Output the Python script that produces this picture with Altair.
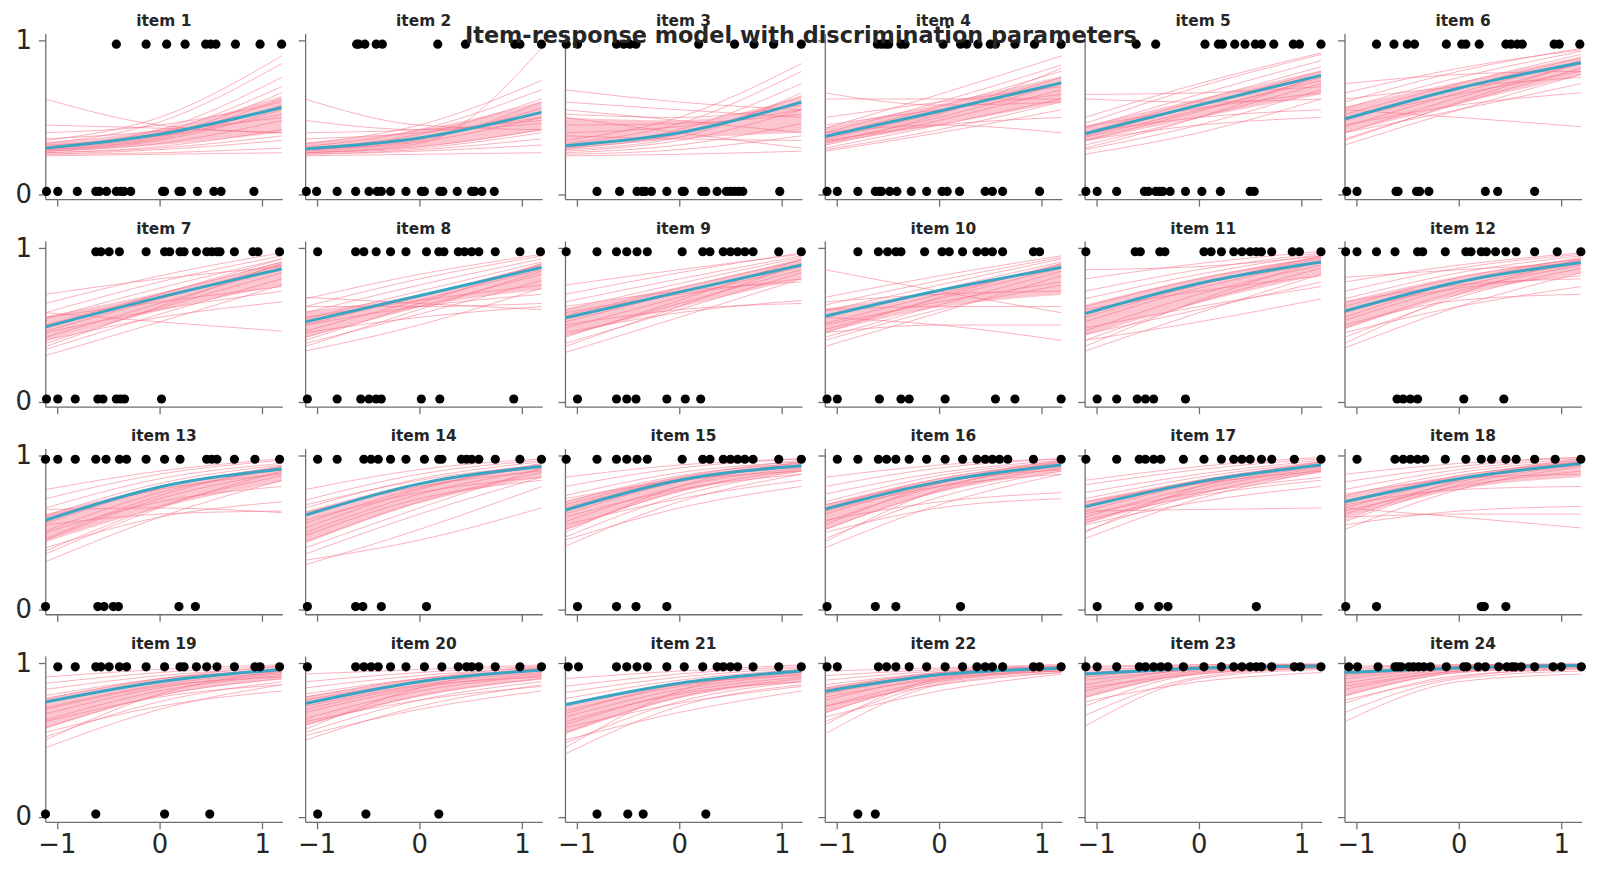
import altair as alt
import pandas as pd

x_grid = [-1.11, 0.0, 1.19]

# posterior mean curve per item (blue)
mean_curve = [
    (0.30, 0.39, 0.565), (0.295, 0.366, 0.533), (0.316, 0.40, 0.60),
    (0.376, 0.54, 0.725), (0.394, 0.58, 0.774), (0.49, 0.69, 0.856),
    (0.488, 0.68, 0.865), (0.52, 0.69, 0.875), (0.546, 0.714, 0.89),
    (0.557, 0.725, 0.875), (0.574, 0.77, 0.91), (0.59, 0.78, 0.907),
    (0.58, 0.796, 0.914), (0.613, 0.817, 0.93), (0.645, 0.84, 0.935),
    (0.652, 0.83, 0.94), (0.667, 0.83, 0.94), (0.70, 0.85, 0.95),
    (0.748, 0.88, 0.96), (0.738, 0.88, 0.957), (0.73, 0.87, 0.95),
    (0.817, 0.925, 0.968), (0.93, 0.968, 0.983), (0.94, 0.97, 0.985),
]

# posterior draws per item (pink)
sample_curves = [
    [(0.26, 0.27, 0.30), (0.25, 0.26, 0.27), (0.27, 0.31, 0.42), (0.28, 0.35, 0.55),
     (0.29, 0.37, 0.62), (0.30, 0.40, 0.70), (0.31, 0.42, 0.76), (0.33, 0.47, 0.85),
     (0.35, 0.50, 0.90), (0.28, 0.33, 0.48), (0.32, 0.38, 0.52), (0.36, 0.41, 0.50),
     (0.40, 0.45, 0.60), (0.45, 0.43, 0.40), (0.62, 0.45, 0.40), (0.27, 0.30, 0.38),
     (0.29, 0.36, 0.58), (0.30, 0.38, 0.66), (0.26, 0.29, 0.35)],
    [(0.25, 0.26, 0.27), (0.26, 0.29, 0.36), (0.27, 0.31, 0.42), (0.28, 0.34, 0.50),
     (0.29, 0.36, 0.56), (0.30, 0.39, 0.62), (0.31, 0.42, 0.68), (0.33, 0.45, 0.74),
     (0.27, 0.33, 0.95), (0.36, 0.40, 0.50), (0.40, 0.42, 0.48), (0.62, 0.45, 0.42),
     (0.48, 0.42, 0.46), (0.27, 0.30, 0.40), (0.29, 0.35, 0.60), (0.26, 0.28, 0.32)],
    [(0.25, 0.26, 0.28), (0.26, 0.29, 0.38), (0.27, 0.32, 0.46), (0.28, 0.35, 0.55),
     (0.30, 0.39, 0.64), (0.31, 0.42, 0.72), (0.33, 0.46, 0.80), (0.35, 0.50, 0.85),
     (0.40, 0.44, 0.55), (0.45, 0.46, 0.52), (0.52, 0.50, 0.58), (0.60, 0.55, 0.50),
     (0.68, 0.60, 0.55), (0.55, 0.48, 0.40), (0.38, 0.36, 0.35), (0.29, 0.37, 0.66),
     (0.50, 0.40, 0.30)],
    [(0.28, 0.40, 0.55), (0.30, 0.45, 0.62), (0.32, 0.48, 0.68), (0.34, 0.50, 0.72),
     (0.36, 0.53, 0.76), (0.38, 0.57, 0.80), (0.40, 0.60, 0.84), (0.43, 0.65, 0.90),
     (0.62, 0.62, 0.62), (0.66, 0.58, 0.60), (0.35, 0.45, 0.50), (0.40, 0.45, 0.40),
     (0.45, 0.55, 0.65), (0.33, 0.52, 0.82), (0.50, 0.60, 0.70), (0.29, 0.42, 0.60)],
    [(0.26, 0.40, 0.62), (0.29, 0.45, 0.68), (0.32, 0.50, 0.72), (0.35, 0.54, 0.76),
     (0.38, 0.58, 0.80), (0.40, 0.61, 0.83), (0.43, 0.65, 0.87), (0.46, 0.70, 0.91),
     (0.50, 0.72, 0.92), (0.65, 0.66, 0.70), (0.62, 0.60, 0.62), (0.35, 0.45, 0.50),
     (0.40, 0.50, 0.55), (0.30, 0.50, 0.78), (0.44, 0.56, 0.66), (0.37, 0.55, 0.74)],
    [(0.32, 0.55, 0.78), (0.36, 0.59, 0.82), (0.40, 0.63, 0.85), (0.44, 0.66, 0.87),
     (0.48, 0.69, 0.89), (0.52, 0.72, 0.91), (0.56, 0.76, 0.93), (0.60, 0.80, 0.95),
     (0.66, 0.82, 0.94), (0.72, 0.78, 0.80), (0.55, 0.50, 0.44), (0.45, 0.58, 0.66),
     (0.40, 0.55, 0.72), (0.62, 0.70, 0.76), (0.50, 0.65, 0.80), (0.35, 0.60, 0.86)],
    [(0.30, 0.52, 0.76), (0.34, 0.57, 0.80), (0.38, 0.61, 0.84), (0.42, 0.64, 0.87),
     (0.46, 0.67, 0.89), (0.50, 0.70, 0.91), (0.54, 0.74, 0.93), (0.58, 0.78, 0.95),
     (0.64, 0.82, 0.97), (0.70, 0.80, 0.88), (0.58, 0.52, 0.46), (0.40, 0.55, 0.65),
     (0.45, 0.60, 0.72), (0.36, 0.62, 0.90), (0.55, 0.65, 0.75), (0.48, 0.70, 0.93)],
    [(0.33, 0.50, 0.74), (0.38, 0.57, 0.79), (0.42, 0.62, 0.83), (0.46, 0.66, 0.86),
     (0.50, 0.69, 0.89), (0.54, 0.72, 0.91), (0.58, 0.76, 0.93), (0.62, 0.80, 0.95),
     (0.67, 0.83, 0.96), (0.68, 0.64, 0.60), (0.62, 0.62, 0.64), (0.45, 0.55, 0.62),
     (0.36, 0.60, 0.85), (0.55, 0.66, 0.76), (0.50, 0.62, 0.70), (0.40, 0.64, 0.90)],
    [(0.32, 0.55, 0.80), (0.38, 0.60, 0.84), (0.43, 0.64, 0.86), (0.48, 0.68, 0.88),
     (0.52, 0.71, 0.90), (0.56, 0.74, 0.92), (0.60, 0.77, 0.94), (0.65, 0.80, 0.95),
     (0.70, 0.84, 0.97), (0.76, 0.86, 0.96), (0.45, 0.58, 0.66), (0.50, 0.60, 0.64),
     (0.36, 0.62, 0.90), (0.58, 0.70, 0.80), (0.42, 0.66, 0.93), (0.62, 0.72, 0.78)],
    [(0.36, 0.58, 0.82), (0.42, 0.63, 0.85), (0.47, 0.67, 0.87), (0.51, 0.70, 0.89),
     (0.55, 0.73, 0.91), (0.59, 0.76, 0.93), (0.63, 0.79, 0.94), (0.68, 0.82, 0.95),
     (0.86, 0.72, 0.58), (0.55, 0.50, 0.40), (0.45, 0.50, 0.50), (0.60, 0.62, 0.62),
     (0.40, 0.60, 0.76), (0.50, 0.65, 0.78), (0.65, 0.70, 0.72), (0.45, 0.68, 0.90)],
    [(0.33, 0.58, 0.83), (0.40, 0.65, 0.87), (0.46, 0.70, 0.89), (0.52, 0.74, 0.91),
     (0.57, 0.77, 0.93), (0.62, 0.80, 0.94), (0.67, 0.83, 0.96), (0.72, 0.86, 0.97),
     (0.80, 0.90, 0.98), (0.86, 0.88, 0.95), (0.40, 0.52, 0.67), (0.48, 0.62, 0.75),
     (0.36, 0.66, 0.92), (0.60, 0.72, 0.82), (0.55, 0.76, 0.95), (0.44, 0.60, 0.78)],
    [(0.35, 0.62, 0.84), (0.42, 0.68, 0.87), (0.48, 0.72, 0.89), (0.53, 0.75, 0.90),
     (0.58, 0.78, 0.92), (0.62, 0.81, 0.93), (0.67, 0.84, 0.95), (0.72, 0.87, 0.96),
     (0.78, 0.89, 0.97), (0.81, 0.86, 0.90), (0.45, 0.62, 0.75), (0.50, 0.66, 0.70),
     (0.38, 0.70, 0.93), (0.60, 0.74, 0.82), (0.55, 0.78, 0.94), (0.65, 0.76, 0.80)],
    [(0.31, 0.60, 0.84), (0.38, 0.67, 0.87), (0.45, 0.72, 0.89), (0.51, 0.76, 0.91),
     (0.56, 0.79, 0.93), (0.61, 0.82, 0.94), (0.66, 0.85, 0.95), (0.72, 0.88, 0.97),
     (0.78, 0.90, 0.98), (0.40, 0.60, 0.70), (0.55, 0.62, 0.64), (0.65, 0.66, 0.63),
     (0.36, 0.66, 0.90), (0.50, 0.70, 0.80), (0.60, 0.78, 0.88), (0.46, 0.74, 0.93)],
    [(0.29, 0.52, 0.80), (0.36, 0.62, 0.86), (0.44, 0.70, 0.89), (0.50, 0.75, 0.91),
     (0.56, 0.79, 0.93), (0.61, 0.82, 0.94), (0.66, 0.85, 0.96), (0.71, 0.88, 0.97),
     (0.78, 0.91, 0.98), (0.32, 0.45, 0.66), (0.40, 0.66, 0.92), (0.48, 0.72, 0.84),
     (0.58, 0.76, 0.86), (0.68, 0.84, 0.94), (0.53, 0.78, 0.95), (0.63, 0.80, 0.90)],
    [(0.41, 0.70, 0.88), (0.47, 0.74, 0.90), (0.52, 0.77, 0.91), (0.57, 0.80, 0.92),
     (0.62, 0.83, 0.93), (0.66, 0.85, 0.94), (0.70, 0.87, 0.95), (0.74, 0.89, 0.96),
     (0.80, 0.92, 0.98), (0.86, 0.94, 0.98), (0.45, 0.66, 0.80), (0.55, 0.72, 0.84),
     (0.50, 0.80, 0.96), (0.60, 0.78, 0.88), (0.68, 0.86, 0.97), (0.72, 0.84, 0.90)],
    [(0.40, 0.68, 0.88), (0.46, 0.73, 0.90), (0.52, 0.77, 0.92), (0.57, 0.80, 0.93),
     (0.62, 0.82, 0.94), (0.66, 0.85, 0.95), (0.70, 0.87, 0.96), (0.75, 0.89, 0.97),
     (0.80, 0.92, 0.98), (0.86, 0.94, 0.98), (0.50, 0.66, 0.72), (0.58, 0.70, 0.76),
     (0.44, 0.78, 0.96), (0.64, 0.80, 0.88), (0.55, 0.82, 0.97), (0.68, 0.83, 0.91)],
    [(0.46, 0.72, 0.90), (0.51, 0.75, 0.91), (0.56, 0.78, 0.92), (0.60, 0.80, 0.93),
     (0.64, 0.82, 0.94), (0.68, 0.84, 0.95), (0.72, 0.86, 0.96), (0.76, 0.88, 0.97),
     (0.81, 0.91, 0.98), (0.84, 0.93, 0.99), (0.64, 0.65, 0.66), (0.55, 0.70, 0.80),
     (0.50, 0.80, 0.96), (0.62, 0.76, 0.86), (0.70, 0.82, 0.90), (0.58, 0.74, 0.84)],
    [(0.52, 0.78, 0.93), (0.57, 0.81, 0.94), (0.62, 0.83, 0.95), (0.66, 0.85, 0.96),
     (0.70, 0.87, 0.96), (0.74, 0.89, 0.97), (0.78, 0.91, 0.98), (0.83, 0.93, 0.99),
     (0.88, 0.95, 0.99), (0.66, 0.60, 0.53), (0.60, 0.62, 0.62), (0.55, 0.64, 0.67),
     (0.68, 0.78, 0.80), (0.58, 0.84, 0.98), (0.75, 0.85, 0.88), (0.64, 0.80, 0.90)],
    [(0.45, 0.70, 0.86), (0.52, 0.75, 0.88), (0.58, 0.79, 0.90), (0.63, 0.82, 0.92),
     (0.67, 0.84, 0.93), (0.71, 0.86, 0.94), (0.75, 0.88, 0.95), (0.79, 0.90, 0.96),
     (0.83, 0.92, 0.97), (0.87, 0.94, 0.98), (0.91, 0.96, 0.99), (0.55, 0.72, 0.82),
     (0.62, 0.78, 0.86), (0.50, 0.80, 0.95), (0.70, 0.85, 0.91), (0.77, 0.90, 0.98)],
    [(0.50, 0.72, 0.86), (0.55, 0.76, 0.88), (0.60, 0.79, 0.90), (0.64, 0.82, 0.92),
     (0.68, 0.84, 0.93), (0.72, 0.86, 0.94), (0.76, 0.88, 0.95), (0.80, 0.90, 0.96),
     (0.84, 0.92, 0.97), (0.88, 0.94, 0.98), (0.93, 0.96, 0.99), (0.53, 0.70, 0.82),
     (0.62, 0.76, 0.85), (0.57, 0.84, 0.97), (0.70, 0.85, 0.91), (0.78, 0.90, 0.98)],
    [(0.41, 0.72, 0.86), (0.48, 0.75, 0.88), (0.55, 0.78, 0.90), (0.60, 0.81, 0.91),
     (0.65, 0.83, 0.93), (0.69, 0.85, 0.94), (0.73, 0.87, 0.95), (0.77, 0.89, 0.96),
     (0.81, 0.91, 0.97), (0.85, 0.93, 0.98), (0.90, 0.95, 0.99), (0.50, 0.68, 0.82),
     (0.58, 0.74, 0.85), (0.45, 0.82, 0.96), (0.67, 0.86, 0.92), (0.62, 0.80, 0.88)],
    [(0.54, 0.86, 0.94), (0.62, 0.87, 0.95), (0.68, 0.88, 0.95), (0.72, 0.89, 0.96),
     (0.76, 0.91, 0.96), (0.80, 0.92, 0.97), (0.83, 0.93, 0.97), (0.86, 0.94, 0.98),
     (0.89, 0.95, 0.98), (0.92, 0.96, 0.99), (0.95, 0.97, 0.99), (0.65, 0.82, 0.93),
     (0.72, 0.86, 0.94), (0.60, 0.90, 0.97), (0.78, 0.90, 0.95), (0.84, 0.94, 0.98)],
    [(0.59, 0.90, 0.96), (0.66, 0.91, 0.97), (0.72, 0.93, 0.97), (0.78, 0.94, 0.98),
     (0.82, 0.95, 0.98), (0.86, 0.96, 0.98), (0.89, 0.96, 0.99), (0.91, 0.97, 0.99),
     (0.93, 0.97, 0.99), (0.95, 0.98, 0.99), (0.96, 0.98, 0.99), (0.97, 0.99, 0.995),
     (0.98, 0.99, 0.995), (0.75, 0.88, 0.94), (0.84, 0.93, 0.97), (0.94, 0.975, 0.99)],
    [(0.62, 0.88, 0.93), (0.68, 0.90, 0.95), (0.74, 0.92, 0.96), (0.79, 0.94, 0.97),
     (0.83, 0.95, 0.98), (0.87, 0.96, 0.98), (0.90, 0.97, 0.99), (0.92, 0.97, 0.99),
     (0.94, 0.98, 0.99), (0.95, 0.98, 0.99), (0.96, 0.985, 0.995), (0.97, 0.99, 0.995),
     (0.98, 0.99, 0.995), (0.76, 0.91, 0.97), (0.85, 0.95, 0.98), (0.93, 0.975, 0.99)],
]

# observed answers: abilities of persons answering right (1) / wrong (0)
ones_x = [
    [-0.42, -0.13, 0.07, 0.25, 0.45, 0.50, 0.55, 0.74, 0.98, 1.19],
    [-0.61, -0.59, -0.53, -0.42, -0.36, 0.18, 0.45, 0.93, 0.98, 1.19],
    [-1.10, -0.99, -0.61, -0.54, -0.48, -0.42, 0.19, 0.54, 0.73, 0.92, 1.19],
    [-0.60, -0.56, -0.52, -0.49, -0.37, -0.33, 0.04, 0.21, 0.27, 0.38, 0.50, 0.55, 0.74, 0.93, 1.19],
    [-0.61, -0.42, 0.06, 0.19, 0.23, 0.35, 0.45, 0.55, 0.61, 0.73, 0.92, 0.98, 1.19],
    [-0.80, -0.63, -0.50, -0.43, -0.12, 0.03, 0.07, 0.20, 0.46, 0.51, 0.57, 0.62, 0.93, 0.98, 1.18],
    [-0.62, -0.57, -0.49, -0.39, -0.13, 0.05, 0.10, 0.20, 0.24, 0.36, 0.46, 0.51, 0.56, 0.59, 0.73,
     0.91, 0.96, 1.17],
    [-0.99, -0.62, -0.54, -0.42, -0.28, -0.13, 0.07, 0.19, 0.24, 0.38, 0.44, 0.51, 0.58, 0.74, 0.98, 1.18],
    [-1.10, -0.80, -0.61, -0.51, -0.41, -0.31, 0.03, 0.23, 0.30, 0.43, 0.50, 0.57, 0.64, 0.72, 0.97, 1.19],
    [-0.79, -0.59, -0.50, -0.42, -0.37, -0.14, 0.03, 0.10, 0.23, 0.37, 0.45, 0.52, 0.62, 0.92, 0.98],
    [-1.10, -0.62, -0.57, -0.38, -0.33, 0.05, 0.12, 0.22, 0.34, 0.42, 0.50, 0.56, 0.61, 0.71, 0.91,
     0.98, 1.19],
    [-1.10, -0.99, -0.80, -0.62, -0.40, -0.35, -0.13, 0.07, 0.12, 0.22, 0.27, 0.36, 0.46, 0.56, 0.74,
     0.96, 1.19],
    [-1.11, -0.99, -0.82, -0.62, -0.52, -0.39, -0.32, -0.13, 0.05, 0.20, 0.46, 0.51, 0.56, 0.73, 0.93, 1.17],
    [-0.99, -0.80, -0.54, -0.47, -0.40, -0.28, -0.13, 0.05, 0.19, 0.22, 0.41, 0.46, 0.51, 0.58, 0.74,
     0.98, 1.19],
    [-1.10, -0.80, -0.61, -0.51, -0.41, -0.31, 0.03, 0.23, 0.30, 0.43, 0.50, 0.57, 0.64, 0.72, 0.97, 1.19],
    [-0.99, -0.79, -0.59, -0.51, -0.42, -0.29, -0.12, 0.06, 0.23, 0.37, 0.45, 0.52, 0.59, 0.67, 0.92, 1.19],
    [-1.10, -0.80, -0.58, -0.52, -0.44, -0.37, -0.15, 0.05, 0.22, 0.34, 0.42, 0.50, 0.61, 0.71, 0.93, 1.19],
    [-0.99, -0.62, -0.54, -0.47, -0.40, -0.33, -0.13, 0.07, 0.22, 0.32, 0.46, 0.56, 0.74, 0.94, 1.19],
    [-0.99, -0.82, -0.62, -0.57, -0.49, -0.39, -0.32, -0.13, 0.05, 0.20, 0.24, 0.36, 0.46, 0.56, 0.73,
     0.93, 0.98, 1.17],
    [-1.09, -0.62, -0.54, -0.47, -0.40, -0.28, -0.13, 0.05, 0.22, 0.38, 0.46, 0.51, 0.58, 0.74, 0.98, 1.19],
    [-1.08, -0.98, -0.61, -0.51, -0.41, -0.31, -0.12, 0.05, 0.23, 0.37, 0.43, 0.50, 0.57, 0.72, 0.97, 1.19],
    [-1.09, -0.99, -0.59, -0.51, -0.42, -0.29, -0.12, 0.06, 0.23, 0.37, 0.45, 0.52, 0.62, 0.92, 0.98, 1.19],
    [-1.10, -0.99, -0.80, -0.58, -0.52, -0.44, -0.37, -0.30, -0.15, 0.05, 0.22, 0.34, 0.42, 0.50, 0.56,
     0.61, 0.71, 0.93, 0.99, 1.19],
    [-1.07, -0.985, -0.785, -0.62, -0.59, -0.56, -0.485, -0.44, -0.39, -0.34, -0.275, -0.12, 0.05, 0.08,
     0.19, 0.26, 0.39, 0.47, 0.52, 0.55, 0.61, 0.74, 0.92, 1.0, 1.195],
]
zeros_x = [
    [-1.10, -0.99, -0.80, -0.62, -0.585, -0.515, -0.42, -0.375, -0.345, -0.28, 0.03, 0.05, 0.19, 0.215,
     0.37, 0.53, 0.60, 0.92],
    [-1.10, -1.0, -0.80, -0.62, -0.49, -0.41, -0.37, -0.28, -0.13, 0.02, 0.05, 0.2, 0.23, 0.37, 0.51,
     0.54, 0.61, 0.73],
    [-0.80, -0.58, -0.41, -0.36, -0.33, -0.27, -0.12, 0.03, 0.05, 0.22, 0.26, 0.37, 0.46, 0.50, 0.54,
     0.58, 0.62, 0.98],
    [-1.09, -0.99, -0.79, -0.62, -0.58, -0.56, -0.48, -0.41, -0.27, -0.12, 0.03, 0.08, 0.2, 0.45, 0.52,
     0.62, 0.98],
    [-1.10, -0.99, -0.80, -0.53, -0.49, -0.42, -0.38, -0.35, -0.28, -0.13, 0.03, 0.21, 0.50, 0.54],
    [-1.09, -0.99, -0.61, -0.59, -0.41, -0.38, -0.29, 0.26, 0.38, 0.74],
    [-1.10, -0.99, -0.82, -0.60, -0.55, -0.42, -0.38, -0.34, 0.02],
    [-1.09, -0.80, -0.57, -0.49, -0.42, -0.37, 0.02, 0.20, 0.92],
    [-0.99, -0.61, -0.51, -0.42, -0.12, 0.06, 0.21],
    [-1.09, -0.99, -0.58, -0.37, -0.29, 0.06, 0.55, 0.74, 1.19],
    [-0.99, -0.80, -0.60, -0.52, -0.44, -0.13],
    [-0.60, -0.54, -0.47, -0.40, 0.05, 0.44],
    [-1.11, -0.60, -0.54, -0.45, -0.40, 0.19, 0.35],
    [-1.09, -0.62, -0.55, -0.37, 0.07],
    [-0.99, -0.61, -0.42, -0.12],
    [-1.09, -0.62, -0.42, 0.21],
    [-0.99, -0.58, -0.39, -0.30, 0.56],
    [-1.10, -0.80, 0.22, 0.25, 0.46],
    [-1.11, -0.62, 0.05, 0.49],
    [-0.99, -0.52, 0.19],
    [-0.80, -0.50, -0.35, 0.26],
    [-0.79, -0.62],
    [],
    [],
]

PINK = '#f77189'
BLUE = '#3aa5c3'
GREY = '#6e6e6e'
TEXT = '#262626'

x_scale = alt.Scale(domain=[-1.112, 1.197], nice=False, zero=False)
y_scale = alt.Scale(domain=[-0.032, 1.047], nice=False, zero=False)
minus = "datum.value < 0 ? '\u2212' + format(-datum.value, 'd') : format(datum.value, 'd')"


def enc_x(field, show):
    return alt.X(field, type='quantitative', scale=x_scale, title=None,
                 axis=alt.Axis(values=[-1, 0, 1], labels=show, labelExpr=minus, grid=False,
                               tickSize=7, labelPadding=3, labelFontSize=26))


def enc_y(field, show):
    return alt.Y(field, type='quantitative', scale=y_scale, title=None,
                 axis=alt.Axis(values=[0, 1], labels=show, labelExpr=minus, grid=False,
                               tickSize=7, labelPadding=7, labelFontSize=26))


def panel(i):
    col, row = i % 6, i // 6
    show_x, show_y = row == 3, col == 0

    samples = pd.DataFrame(
        [{'curve': c, 'x': x, 'p': p}
         for c, tri in enumerate(sample_curves[i]) for x, p in zip(x_grid, tri)])
    mean = pd.DataFrame({'x': x_grid, 'p': list(mean_curve[i])})
    obs = pd.DataFrame({'x': ones_x[i] + zeros_x[i],
                        'r': [1] * len(ones_x[i]) + [0] * len(zeros_x[i])})

    # darker core of the posterior band
    core = alt.Chart(samples).transform_aggregate(
        lo='q1(p)', hi='q3(p)', groupby=['x']
    ).mark_area(color=PINK, opacity=0.4, interpolate='monotone').encode(
        x=enc_x('x', show_x), y=enc_y('lo', show_y), y2='hi:Q')

    lines = alt.Chart(samples).mark_line(
        color=PINK, strokeWidth=1, opacity=0.55, interpolate='monotone'
    ).encode(x=enc_x('x', show_x), y=enc_y('p', show_y), detail='curve:N')

    mline = alt.Chart(mean).mark_line(
        color=BLUE, strokeWidth=3, interpolate='monotone'
    ).encode(x=enc_x('x', show_x), y=enc_y('p', show_y))

    dots = alt.Chart(obs).transform_calculate(
        yy='0.018 + 0.959 * datum.r'
    ).mark_circle(size=85, color='black', opacity=1).encode(
        x=enc_x('x', show_x), y=enc_y('yy', show_y))

    # the "1" label of the left column pokes above the plot; keep titles level
    return alt.layer(core, lines, mline, dots).properties(
        width=238.5, height=166.7,
        title=alt.TitleParams(f'item {i + 1}', fontSize=15.5, fontWeight='bold',
                              color=TEXT, offset=-1.8 if show_y else 4))


chart = alt.concat(
    *[panel(i) for i in range(24)], columns=6,
    spacing={'row': 41.8, 'column': 22.4}, bounds='flush'
).properties(
    title=alt.TitleParams('Item-response model with discrimination parameters',
                          fontSize=22.5, fontWeight='bold', color=TEXT, anchor='middle',
                          offset=-34),
    padding={'left': 6.5, 'top': 3, 'right': 5, 'bottom': 5},
).configure(
    font='DejaVu Sans'
).configure_view(
    stroke=None
).configure_axis(
    domainColor=GREY, tickColor=GREY, domainWidth=1.3, tickWidth=1.3,
    labelColor=TEXT, labelFont='DejaVu Sans'
)

chart.save('out.html', embed_options={'renderer': 'svg', 'actions': False})
